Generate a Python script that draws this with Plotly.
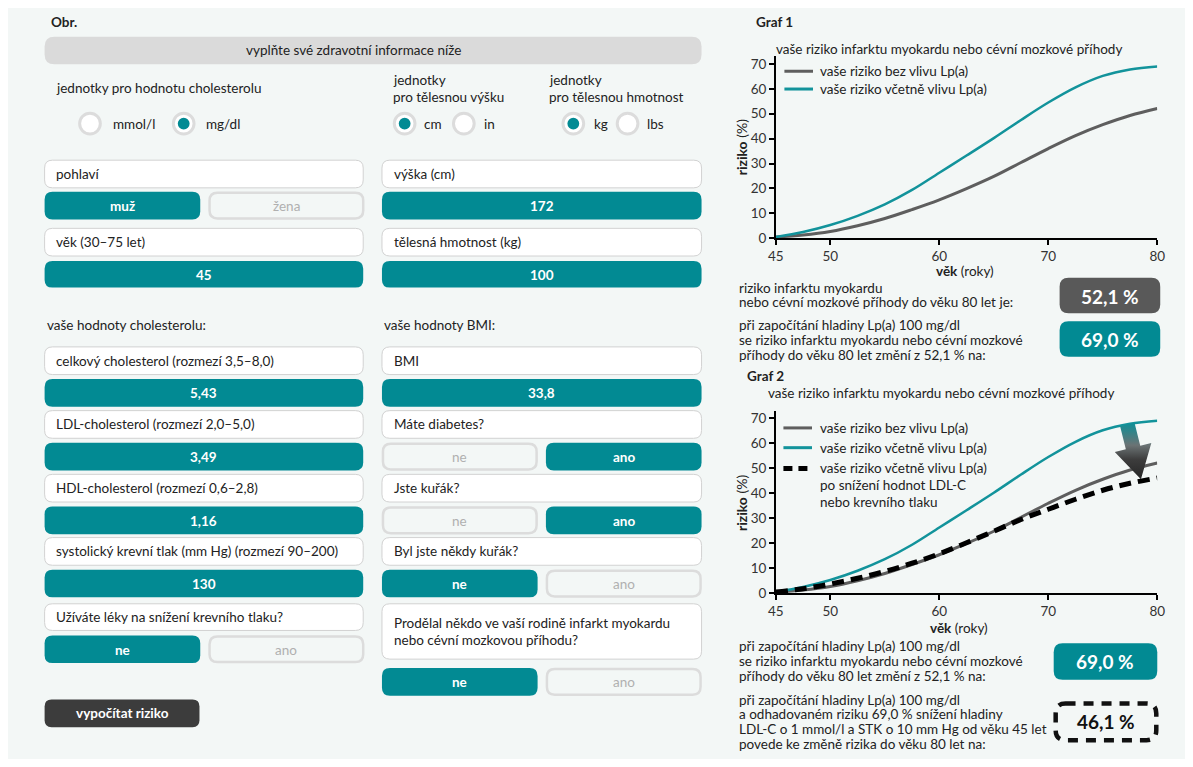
import numpy as np
import plotly.graph_objects as go

# The page keeps an 8 px body margin; the figure is sized so that the page never overflows the window.
OFF = 8
FW, FH = 1177, 751
FONT = "Lato"
FS = 13.5
TEAL = "#028a93"
TEAL_LINE = "#12939b"
GRAY_LINE = "#5e5e5e"
BG = "#f3f7f6"

# ---------------- data ----------------
ages = [45, 47.5, 50, 52.5, 55, 57.5, 60, 62.5, 65, 67.5, 70, 72.5, 75, 77.5, 80]
risk_without_lpa = [0.5, 1.3, 2.7, 5.0, 7.9, 11.5, 15.4, 19.9, 24.8, 30.4, 36.0, 41.2, 45.6, 49.3, 52.1]
risk_with_lpa = [0.5, 2.5, 5.3, 9.0, 13.6, 19.4, 26.3, 33.2, 40.2, 47.5, 54.5, 60.6, 65.2, 67.8, 69.0]
risk_with_lpa_reduced = [0.5, 1.8, 3.7, 6.0, 8.7, 12.0, 15.8, 20.2, 24.8, 29.5, 33.6, 37.6, 41.2, 44.0, 46.1]
x_ticks = [45, 50, 60, 70, 80]
y_ticks = [0, 10, 20, 30, 40, 50, 60, 70]

series_names = ["vaše riziko bez vlivu Lp(a)", "vaše riziko včetně vlivu Lp(a)"]
series_name_reduced = ["vaše riziko včetně vlivu Lp(a)", "po snížení hodnot LDL-C", "nebo krevního tlaku"]
chart_title = "vaše riziko infarktu myokardu nebo cévní mozkové příhody"

result_without = "52,1 %"
result_with = "69,0 %"
result_reduced = "46,1 %"

chol_labels = ["celkový cholesterol (rozmezí 3,5–8,0)", "LDL-cholesterol (rozmezí 2,0–5,0)",
               "HDL-cholesterol (rozmezí 0,6–2,8)", "systolický krevní tlak (mm Hg) (rozmezí 90–200)"]
chol_values = ["5,43", "3,49", "1,16", "130"]
questions = ["Máte diabetes?", "Jste kuřák?", "Byl jste někdy kuřák?"]
answers = ["ano", "ano", "ne"]

# ---------------- helpers (window pixels -> paper) ----------------
def px(x):
    return (x - OFF) / FW

def py(y):
    return 1 - (y - OFF) / FH

shapes = []
annotations = []

def rrect(x0, y0, x1, y1, r, fill, lc=None, lw=0, dash=None):
    pts = [("M", [(x0 + r, y0)]), ("L", [(x1 - r, y0)]), ("Q", [(x1, y0), (x1, y0 + r)]),
           ("L", [(x1, y1 - r)]), ("Q", [(x1, y1), (x1 - r, y1)]), ("L", [(x0 + r, y1)]),
           ("Q", [(x0, y1), (x0, y1 - r)]), ("L", [(x0, y0 + r)]), ("Q", [(x0, y0), (x0 + r, y0)])]
    path = ""
    for cmd, ps in pts:
        path += cmd + " " + " ".join(f"{px(a):.6f},{py(b):.6f}" for a, b in ps) + " "
    path += "Z"
    line = dict(width=lw, color=lc if lc else "rgba(0,0,0,0)")
    if dash:
        line["dash"] = dash
    shapes.append(dict(type="path", path=path, xref="paper", yref="paper",
                       fillcolor=fill, line=line, layer="below"))

def circle(cx, cy, r, fill, lc=None, lw=0):
    shapes.append(dict(type="circle", x0=px(cx - r), x1=px(cx + r), y0=py(cy + r), y1=py(cy - r),
                       xref="paper", yref="paper", fillcolor=fill,
                       line=dict(width=lw, color=lc if lc else "rgba(0,0,0,0)"), layer="below"))

def hline(x0, x1, y, color, width, dash=None):
    line = dict(color=color, width=width)
    if dash:
        line["dash"] = dash
    shapes.append(dict(type="line", x0=px(x0), x1=px(x1), y0=py(y), y1=py(y),
                       xref="paper", yref="paper", line=line))

def T(x, y, s, size=FS, color="#222222", anchor="left", bold=False, angle=0):
    annotations.append(dict(x=px(x), y=py(y), xref="paper", yref="paper", text=(f"<b>{s}</b>" if bold else s),
                            xanchor=anchor, yanchor="middle", showarrow=False, textangle=angle,
                            font=dict(family=FONT, size=size, color=color)))

# ---------------- left form ----------------
T(41, 21, "Obr.", bold=True)
rrect(37, 36, 703, 64, 10, "#dadada")
T(350, 50, "vyplňte své zdravotní informace níže", anchor="center")

def radio(cx, cy, selected):
    circle(cx, cy, 10.5, "#ffffff", "#dcdcdc", 3)
    if selected:
        circle(cx, cy, 6, TEAL)

T(47, 88, "jednotky pro hodnotu cholesterolu")
radio(83, 124, False); T(104, 124, "mmol/l")
radio(178, 124, True); T(199, 124, "mg/dl")
T(388, 80, "jednotky"); T(388, 97, "pro tělesnou výšku")
radio(402, 124, True); T(420, 124, "cm")
radio(462, 124, False); T(480, 124, "in")
T(546, 80, "jednotky"); T(546, 97, "pro tělesnou hmotnost")
radio(573, 124, True); T(592, 124, "kg")
radio(628, 124, False); T(646, 124, "lbs")

def label_box(x0, x1, y0, y1, text_lines):
    rrect(x0, y0, x1, y1, 8, "#ffffff", "#d2d2d2", 1)
    n = len(text_lines)
    mid = (y0 + y1) / 2
    for i, t in enumerate(text_lines):
        T(x0 + 10, mid + (i - (n - 1) / 2) * 17, t)

def teal_bar(x0, x1, y0, y1, text):
    rrect(x0, y0, x1, y1, 8, TEAL)
    T((x0 + x1) / 2, (y0 + y1) / 2 + 0.5, text, color="#ffffff", anchor="center", bold=True)

def off_btn(x0, x1, y0, y1, text):
    rrect(x0 + 1, y0 + 1, x1 - 1, y1 - 1, 8, BG, "#dcdcdc", 2.5)
    T((x0 + x1) / 2, (y0 + y1) / 2 + 0.5, text, color="#b0b0b0", anchor="center")

def yes_no(x0, x1, y0, y1, left_text, right_text, selected):
    mid_l = x0 + (x1 - x0) * 0.487
    mid_r = x0 + (x1 - x0) * 0.513
    if selected == left_text:
        teal_bar(x0, mid_l, y0, y1, left_text)
        off_btn(mid_r, x1, y0, y1, right_text)
    else:
        off_btn(x0, mid_l, y0, y1, left_text)
        teal_bar(mid_r, x1, y0, y1, right_text)

LX0, LX1 = 37, 360
RX0, RX1 = 379, 703

label_box(LX0, LX1, 161, 189, ["pohlaví"])
yes_no(LX0, LX1 + 1, 193, 221, "muž", "žena", "muž")
label_box(LX0, LX1, 230, 258, ["věk (30–75 let)"])
teal_bar(LX0, LX1, 263, 290, "45")

label_box(RX0, RX1, 161, 189, ["výška (cm)"])
teal_bar(RX0, RX1, 193, 221, "172")
label_box(RX0, RX1, 230, 258, ["tělesná hmotnost (kg)"])
teal_bar(RX0, RX1, 263, 290, "100")

T(37, 328, "vaše hodnoty cholesterolu:")
T(379, 328, "vaše hodnoty BMI:")

row_tops = [350, 414.5, 479, 543]
for lab, val, yt in zip(chol_labels, chol_values, row_tops):
    label_box(LX0, LX1, yt, yt + 28, [lab])
    teal_bar(LX0, LX1, yt + 32.5, yt + 60.5, val)

label_box(LX0, LX1, 610, 637, ["Užíváte léky na snížení krevního tlaku?"])
yes_no(LX0, LX1 + 1, 642, 670, "ne", "ano", "ne")

label_box(RX0, RX1, 350, 378, ["BMI"])
teal_bar(RX0, RX1, 382.5, 410.5, "33,8")
for q, a, yt in zip(questions, answers, row_tops[1:]):
    label_box(RX0, RX1, yt, yt + 28, [q])
    yes_no(RX0, RX1, yt + 32.5, yt + 60.5, "ne", "ano", a)

label_box(RX0, RX1, 610, 666, ["Prodělal někdo ve vaší rodině infarkt myokardu", "nebo cévní mozkovou příhodu?"])
yes_no(RX0, RX1, 675, 703, "ne", "ano", "ne")

rrect(37, 707, 194, 735, 7, "#3c3c3c")
T(115.5, 721, "vypočítat riziko", color="#ffffff", anchor="center", bold=True)

# ---------------- charts ----------------
X0, X1 = 778.3, 1165
PXY = 2.52
C1_ZERO = 240
C2_ZERO = 599.3
PXY2 = 2.529
YMAX = 73

fig = go.Figure()
fig.add_trace(go.Scatter(x=ages, y=risk_without_lpa, mode="lines", line=dict(color=GRAY_LINE, width=3, shape="spline"),
                         xaxis="x", yaxis="y", showlegend=False, hoverinfo="skip"))
fig.add_trace(go.Scatter(x=ages, y=risk_with_lpa, mode="lines", line=dict(color=TEAL_LINE, width=2.5, shape="spline"),
                         xaxis="x", yaxis="y", showlegend=False, hoverinfo="skip"))

fig.add_trace(go.Scatter(x=ages, y=risk_without_lpa, mode="lines", line=dict(color=GRAY_LINE, width=3, shape="spline"),
                         xaxis="x2", yaxis="y2", showlegend=False, hoverinfo="skip"))
fig.add_trace(go.Scatter(x=ages, y=risk_with_lpa, mode="lines", line=dict(color=TEAL_LINE, width=2.5, shape="spline"),
                         xaxis="x2", yaxis="y2", showlegend=False, hoverinfo="skip"))

# gradient arrow from the Lp(a) curve down to the reduced curve
a_from, a_to = 77.25, 78.5
top = np.array([X0 + (a_from - 45) * 11.0, C2_ZERO - np.interp(a_from, ages, risk_with_lpa) * PXY2])
tip = np.array([X0 + (a_to - 45) * 11.0, C2_ZERO - np.interp(a_to, ages, risk_with_lpa_reduced) * PXY2 - 2])
u = (tip - top) / np.linalg.norm(tip - top)
n = np.array([u[1], -u[0]])
base = tip - 33 * u
poly = [top - 7.5 * n, top + 7.5 * n, base + 7.5 * n, base + 19 * n, tip, base - 19 * n, base - 7.5 * n, top - 7.5 * n]
ax = [45 + (p[0] - X0) / 11.0 for p in poly]
ay = [(C2_ZERO - p[1]) / PXY2 for p in poly]
fig.add_trace(go.Scatter(x=ax, y=ay, mode="lines", fill="toself", line=dict(width=0),
                         fillgradient=dict(type="vertical",
                                           colorscale=[[0, "#262626"], [0.35, "#3d3d3d"], [0.6, "#6b7374"], [1, "#0c8f97"]]),
                         xaxis="x2", yaxis="y2", showlegend=False, hoverinfo="skip"))

fig.add_trace(go.Scatter(x=ages, y=risk_with_lpa_reduced, mode="lines",
                         line=dict(color="#000000", width=5, dash="12px,7px", shape="spline"),
                         xaxis="x2", yaxis="y2", showlegend=False, hoverinfo="skip"))

axis_common = dict(showline=True, linecolor="#000000", linewidth=1.5, ticks="outside", ticklen=5,
                   tickwidth=1.5, tickcolor="#000000", showgrid=False, zeroline=False,
                   tickfont=dict(family=FONT, size=13.5, color="#333333"), fixedrange=True)

fig.update_layout(
    xaxis=dict(domain=[px(X0), px(X1)], range=[45, 80], tickvals=x_ticks, anchor="y", **axis_common),
    yaxis=dict(domain=[py(C1_ZERO), py(C1_ZERO - YMAX * PXY)], range=[0, YMAX], tickvals=y_ticks, anchor="x", **axis_common),
    xaxis2=dict(domain=[px(X0), px(X1)], range=[45, 80], tickvals=x_ticks, anchor="y2", **axis_common),
    yaxis2=dict(domain=[py(C2_ZERO), py(C2_ZERO - YMAX * PXY2)], range=[0, YMAX], tickvals=y_ticks, anchor="x2", **axis_common),
)

# chart 1 texts
T(756, 21, "Graf 1", bold=True)
T(954, 48, chart_title, anchor="center")
hline(787, 816, 71, GRAY_LINE, 3)
T(821, 71, series_names[0])
hline(787, 816, 89, TEAL_LINE, 3)
T(821, 89, series_names[1])
T(743, 148, "<b>riziko</b> (%)", size=14, angle=-90, anchor="center")
T(970, 273, "<b>věk</b> (roky)", size=13.5, anchor="center")

T(739, 290, "riziko infarktu myokardu")
T(739, 305, "nebo cévní mozkové příhody do věku 80 let je:")
rrect(1066, 280, 1168, 316, 9, "#595959")
T(1117, 298.5, result_without, size=19, color="#ffffff", anchor="center", bold=True)

T(739, 328, "při započítání hladiny Lp(a) 100 mg/dl")
T(739, 343, "se riziko infarktu myokardu nebo cévní mozkové")
T(739, 358, "příhody do věku 80 let změní z 52,1 % na:")
rrect(1066, 324, 1168, 360, 9, TEAL)
T(1117, 342.5, result_with, size=19, color="#ffffff", anchor="center", bold=True)

# chart 2 texts
T(747, 379, "Graf 2", bold=True)
T(946, 397, chart_title, anchor="center")
hline(786, 815, 432, GRAY_LINE, 3)
T(821, 432, series_names[0])
hline(786, 815, 452, TEAL_LINE, 3)
T(821, 452, series_names[1])
hline(786, 815, 473, "#000000", 5, dash="9px,6px")
for i, s in enumerate(series_name_reduced):
    T(821, 473 + i * 17, s)
T(743, 508, "<b>riziko</b> (%)", size=14, angle=-90, anchor="center")
T(964, 635, "<b>věk</b> (roky)", size=13.5, anchor="center")

T(739, 653, "při započítání hladiny Lp(a) 100 mg/dl")
T(739, 668, "se riziko infarktu myokardu nebo cévní mozkové")
T(739, 683, "příhody do věku 80 let změní z 52,1 % na:")
rrect(1060, 650, 1165, 687, 9, TEAL)
T(1112.5, 668.5, result_with, size=19, color="#ffffff", anchor="center", bold=True)

T(739, 707, "při započítání hladiny Lp(a) 100 mg/dl")
T(739, 722, "a odhadovaném riziku 69,0 % snížení hladiny")
T(739, 737, "LDL-C o 1 mmol/l a STK o 10 mm Hg od věku 45 let")
T(739, 752, "povede ke změně rizika do věku 80 let na:")
rrect(1062, 711, 1164, 748, 10, "rgba(0,0,0,0)", "#111111", 4.5, dash="10px,8px")
T(1113, 729.5, result_reduced, size=19, color="#111111", anchor="center", bold=True)

fig.update_layout(
    width=FW, height=FH, margin=dict(l=0, r=0, t=0, b=0),
    paper_bgcolor=BG, plot_bgcolor="rgba(0,0,0,0)",
    shapes=shapes, annotations=annotations, showlegend=False,
    font=dict(family=FONT, size=FS, color="#222222"),
)

fig.write_html("out.html", config={"displayModeBar": False})
